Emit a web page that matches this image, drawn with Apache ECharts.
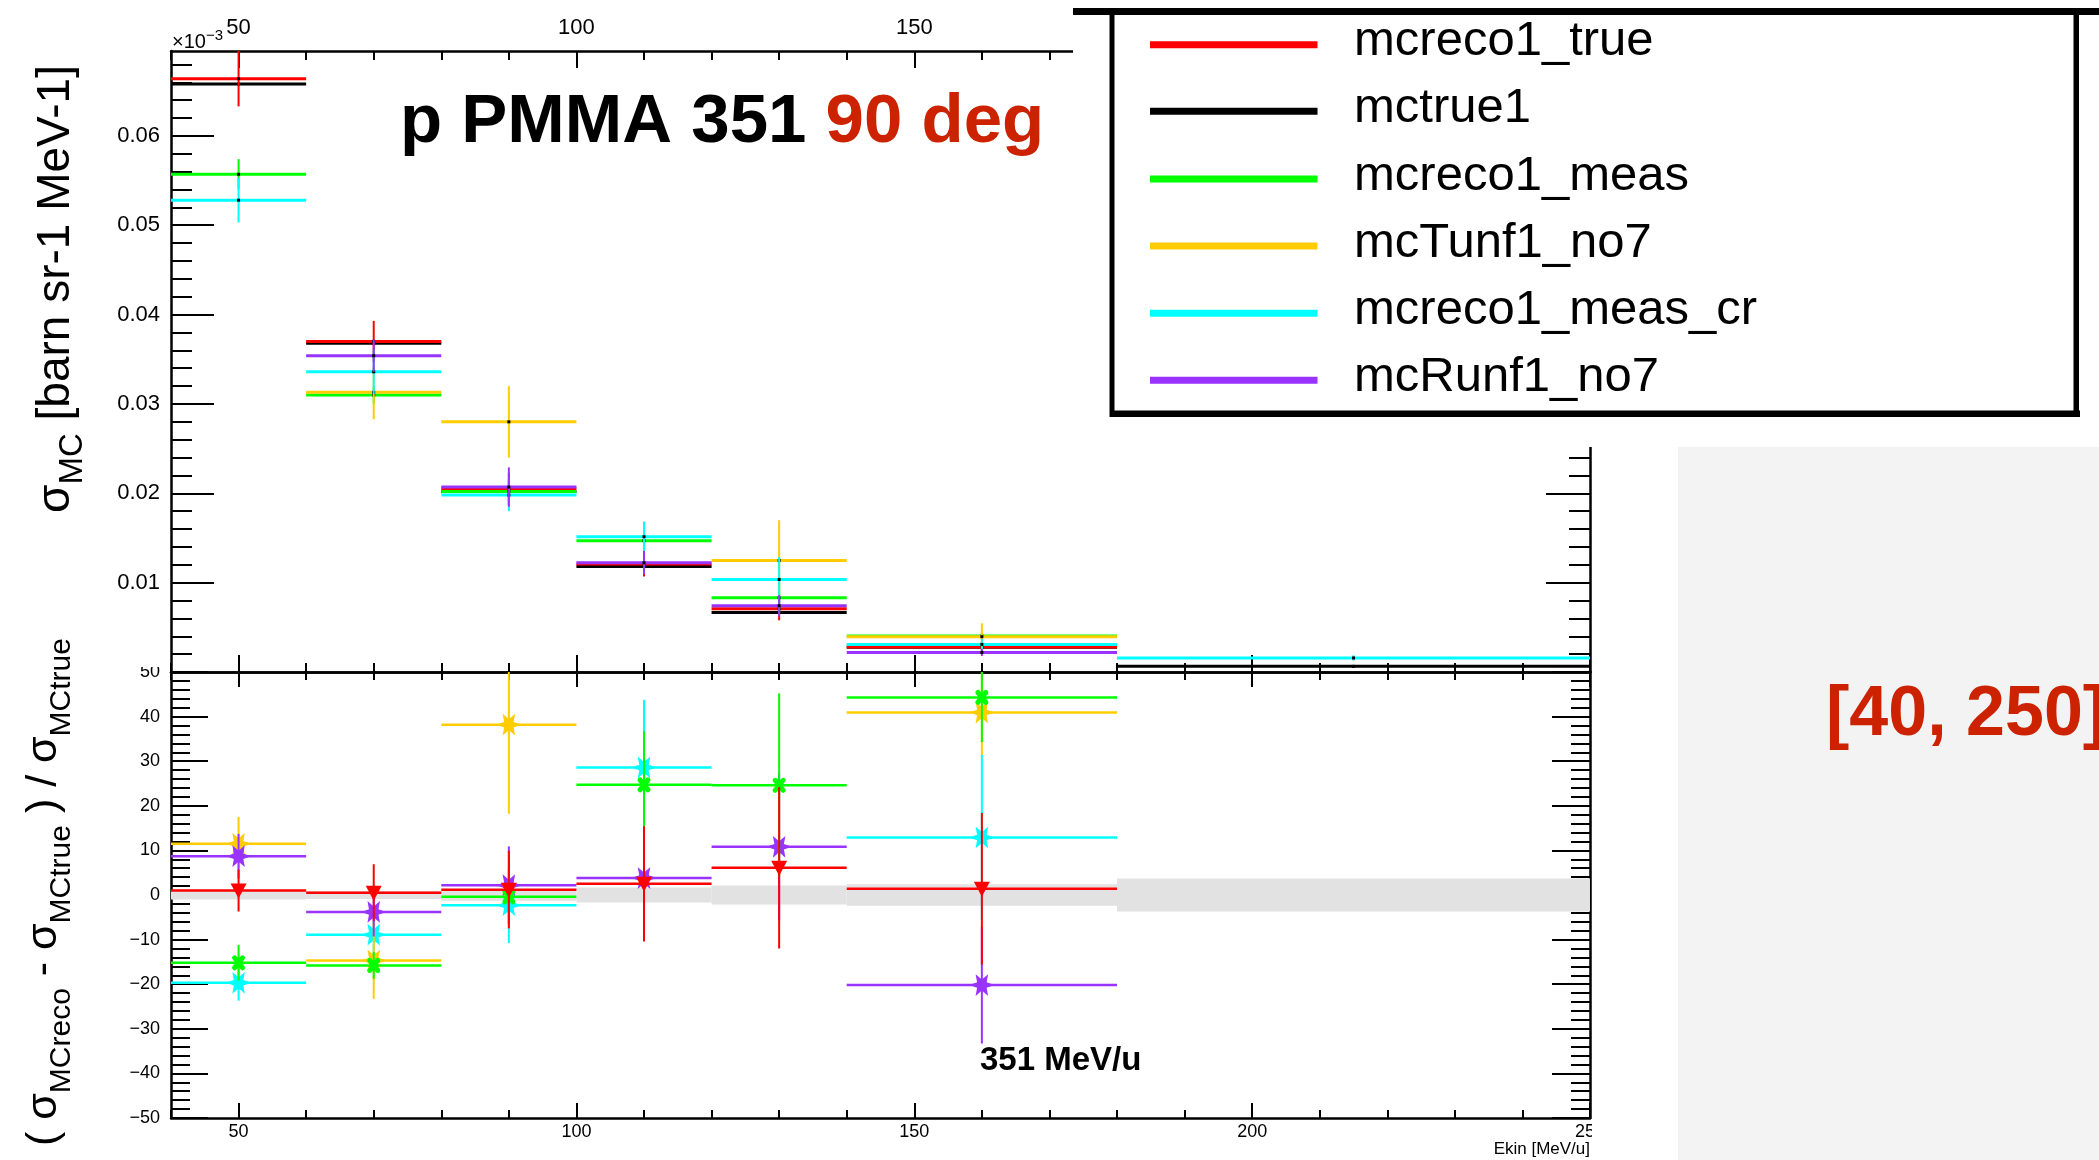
<!DOCTYPE html>
<html><head><meta charset="utf-8">
<script src="https://cdn.jsdelivr.net/npm/echarts@6/dist/echarts.min.js"></script>
<style>html,body{margin:0;padding:0;background:#fff;overflow:hidden}#c{width:2099px;height:1160px}</style>
</head><body><div id="c"></div>
<script>
const FONT = '"Liberation Sans", Arial, Helvetica, sans-serif';

// ---------- bins ----------
const binLo = [40, 60, 80, 100, 120, 140, 180];
const binHi = [60, 80, 100, 120, 140, 180, 250];
const binCenter = [50, 70, 90, 110, 130, 160, 215];

// ---------- legend ----------
const seriesNames = ['mcreco1_true', 'mctrue1', 'mcreco1_meas', 'mcTunf1_no7', 'mcreco1_meas_cr', 'mcRunf1_no7'];
const seriesColors = ['#ff0000', '#000000', '#00ff00', '#ffcc00', '#00ffff', '#9933ff'];

// ---------- upper pad: sigma_MC [barn sr-1 MeV-1] ----------
const sigRecoTrue    = [0.0664, 0.0370, 0.0205, 0.0121, 0.00708, 0.00281, null];
const sigRecoTrueErr = [0.0031, 0.0023, 0.0018, 0.0014, 0.0013, 0.0005, null];
const sigTrue        = [0.0658, 0.0368, 0.0202, 0.0118, 0.00667, 0.00277, 0.00063];
const sigTrueErr     = [0.0001, 0.0001, 0.0001, 0.0001, 0.0001, 0.0001, 0.00005];
const sigMeas        = [0.0557, 0.0310, 0.0202, 0.0147, 0.00832, 0.00403, null];
const sigMeasErr     = [0.0017, 0.0010, 0.0012, 0.0015, 0.0017, 0.0004, null];
const sigTunf        = [0.0734, 0.0313, 0.0280, null, 0.01249, 0.00395, null];
const sigTunfErr     = [0.0030, 0.0030, 0.0040, null, 0.0045, 0.0015, null];
const sigMeasCr      = [0.0528, 0.0336, 0.0198, 0.01514, 0.01036, 0.00309, 0.00157];
const sigMeasCrErr   = [0.0025, 0.0025, 0.0018, 0.0017, 0.0025, 0.0006, 0.0003];
const sigRunf        = [0.0716, 0.0354, 0.0207, 0.01223, 0.00742, 0.00219, null];
const sigRunfErr     = [0.0015, 0.0018, 0.0022, 0.0013, 0.0012, 0.0004, null];

// ---------- lower pad: relative difference [%] ----------
const relRecoTrue    = [1.0, 0.5, 1.2, 2.5, 6.1, 1.4, null];
const relRecoTrueErr = [4.7, 6.4, 8.7, 12.9, 18.1, 17.0, null];
const relMeas        = [-15.2, -15.8, -0.4, 24.7, 24.6, 44.3, null];
const relMeasErr     = [4.0, 3.0, 6.0, 12.0, 20.6, 10.0, null];
const relTunf        = [11.5, -14.7, 38.2, null, null, 40.9, null];
const relTunfErr     = [6.0, 8.6, 20.0, null, null, 9.5, null];
const relMeasCr      = [-19.7, -8.9, -2.3, 28.6, null, 12.9, null];
const relMeasCrErr   = [4.0, 6.0, 8.5, 15.2, null, 18.5, null];
const relRunf        = [8.7, -3.8, 2.2, 3.8, 10.8, -20.2, null];
const relRunfErr     = [5.0, 5.5, 8.7, 12.0, 16.5, 13.1, null];
const trueBand       = [1.0, 0.9, 1.3, 1.7, 2.15, 2.4, 3.7];

// ---------- tick labels ----------
const xMajorTicks = [50, 100, 150, 200, 250];
const xMinorTicks = [40, 50, 60, 70, 80, 90, 100, 110, 120, 130, 140, 150, 160, 170, 180, 190, 200, 210, 220, 230, 240, 250];
const topYLabels = [0.01, 0.02, 0.03, 0.04, 0.05, 0.06];
const topYMinor = [];
for (let k = 1; k <= 34; k++) topYMinor.push(+(k * 0.002).toFixed(3));
const lowYLabels = [-50, -40, -30, -20, -10, 0, 10, 20, 30, 40, 50];
const lowYMinor = [];
for (let k = -25; k <= 25; k++) lowYMinor.push(k * 2);

// ---------- helpers ----------
function rows(vals, errs) {
  const d = [];
  for (let i = 0; i < binLo.length; i++) {
    if (vals[i] == null) continue;
    d.push([binLo[i], binHi[i], binCenter[i], vals[i], errs[i]]);
  }
  return d;
}

function topSeries(name, color, vals, errs) {
  return {
    type: 'custom', name, xAxisIndex: 0, yAxisIndex: 0, clip: true,
    encode: { x: [0, 1, 2], y: 3 }, data: rows(vals, errs), z: 5,
    renderItem(params, api) {
      const lo = api.value(0), hi = api.value(1), c = api.value(2), v = api.value(3), e = api.value(4);
      const a = api.coord([lo, v]), b = api.coord([hi, v]), p = api.coord([c, v]);
      const t = api.coord([c, v + e]), d = api.coord([c, v - e]);
      return { type: 'group', children: [
        { type: 'line', shape: { x1: a[0], y1: a[1], x2: b[0], y2: b[1] }, style: { stroke: color, lineWidth: 3 } },
        { type: 'line', shape: { x1: p[0], y1: t[1], x2: p[0], y2: d[1] }, style: { stroke: color, lineWidth: 2 } },
        { type: 'rect', shape: { x: p[0] - 1.5, y: p[1] - 1.5, width: 3, height: 3 }, style: { fill: '#000' } }
      ] };
    }
  };
}

function markerEl(kind, x, y, color) {
  if (kind === 'tri') {
    return { type: 'polygon', shape: { points: [[x - 8, y - 7], [x + 8, y - 7], [x, y + 8]] }, style: { fill: color } };
  }
  if (kind === 'x') {
    return { type: 'group', children: [
      { type: 'line', shape: { x1: x - 4, y1: y - 5, x2: x + 4, y2: y + 5 }, style: { stroke: color, lineWidth: 5, lineCap: 'round' } },
      { type: 'line', shape: { x1: x - 4, y1: y + 5, x2: x + 4, y2: y - 5 }, style: { stroke: color, lineWidth: 5, lineCap: 'round' } }
    ] };
  }
  const pts = [];
  for (let k = 0; k < 12; k++) {
    const ang = k * Math.PI / 6;
    const r = (k % 2 === 0) ? 12.5 : 5.5;
    pts.push([x + r * Math.cos(ang), y - r * Math.sin(ang)]);
  }
  return { type: 'polygon', shape: { points: pts }, style: { fill: color } };
}

function lowSeries(name, color, vals, errs, marker) {
  return {
    type: 'custom', name, xAxisIndex: 4, yAxisIndex: 4, clip: true,
    encode: { x: [0, 1, 2], y: 3 }, data: rows(vals, errs), z: 5,
    renderItem(params, api) {
      const lo = api.value(0), hi = api.value(1), c = api.value(2), v = api.value(3), e = api.value(4);
      const a = api.coord([lo, v]), b = api.coord([hi, v]), p = api.coord([c, v]);
      const t = api.coord([c, v + e]), d = api.coord([c, v - e]);
      return { type: 'group', children: [
        { type: 'line', shape: { x1: a[0], y1: a[1], x2: b[0], y2: b[1] }, style: { stroke: color, lineWidth: 2.5 } },
        { type: 'line', shape: { x1: p[0], y1: t[1], x2: p[0], y2: d[1] }, style: { stroke: color, lineWidth: 2 } },
        markerEl(marker, p[0], p[1], color)
      ] };
    }
  };
}

function bandSeries() {
  const d = [];
  for (let i = 0; i < binLo.length; i++) d.push([binLo[i], binHi[i], trueBand[i]]);
  return {
    type: 'custom', name: 'band', xAxisIndex: 4, yAxisIndex: 4, clip: true,
    encode: { x: [0, 1], y: 2 }, data: d, z: 3,
    renderItem(params, api) {
      const tl = api.coord([api.value(0), api.value(2)]);
      const br = api.coord([api.value(1), -api.value(2)]);
      return { type: 'rect', shape: { x: tl[0], y: tl[1], width: br[0] - tl[0], height: br[1] - tl[1] }, style: { fill: '#e2e2e2' } };
    }
  };
}

const AX = { color: '#000', width: 2.5 };
function xAxis(grid, pos, ticks, len, showLine, label) {
  return {
    type: 'value', gridIndex: grid, position: pos, min: 40, max: 250,
    axisLine: { show: showLine, onZero: false, lineStyle: AX },
    axisTick: { show: true, inside: true, length: len, customValues: ticks, lineStyle: { color: '#000', width: 2 } },
    axisLabel: label ? Object.assign({ show: true, customValues: xMajorTicks, color: '#000', fontFamily: FONT }, label) : { show: false },
    splitLine: { show: false }
  };
}
function yAxis(grid, pos, min, max, ticks, len, showLine, label) {
  return {
    type: 'value', gridIndex: grid, position: pos, min, max,
    axisLine: { show: showLine, onZero: false, lineStyle: AX },
    axisTick: { show: true, inside: true, length: len, customValues: ticks, lineStyle: { color: '#000', width: 2 } },
    axisLabel: label ? Object.assign({ show: true, color: '#000', fontFamily: FONT }, label) : { show: false },
    splitLine: { show: false }
  };
}

const option = {
  backgroundColor: '#ffffff',
  animation: false,
  grid: [
    { left: 171, top: 51, width: 1419, height: 621 },
    { left: 171, top: 672, width: 1419, height: 446 }
  ],
  xAxis: [
    xAxis(0, 'bottom', xMajorTicks, 17, true, null),
    xAxis(0, 'bottom', xMinorTicks, 9, false, null),
    xAxis(0, 'top', xMajorTicks, 17, true, { fontSize: 22, margin: 12 }),
    xAxis(0, 'top', xMinorTicks, 9, false, null),
    xAxis(1, 'bottom', xMajorTicks, 15, true, { fontSize: 18, margin: 5 }),
    xAxis(1, 'bottom', xMinorTicks, 8, false, null),
    xAxis(1, 'top', xMajorTicks, 15, true, null),
    xAxis(1, 'top', xMinorTicks, 8, false, null)
  ],
  yAxis: [
    yAxis(0, 'left', 0, 0.0695, topYLabels, 43, true, { fontSize: 22, margin: 11, customValues: topYLabels }),
    yAxis(0, 'left', 0, 0.0695, topYMinor, 21, false, null),
    yAxis(0, 'right', 0, 0.0695, topYLabels, 44, true, null),
    yAxis(0, 'right', 0, 0.0695, topYMinor, 21, false, null),
    yAxis(1, 'left', -50, 50, lowYLabels, 37, true, { fontSize: 18, margin: 11, customValues: lowYLabels,
      formatter: v => (v < 0 ? '\u2212' + (-v) : String(v)) }),
    yAxis(1, 'left', -50, 50, lowYMinor, 19, false, null),
    yAxis(1, 'right', -50, 50, lowYLabels, 38, true, null),
    yAxis(1, 'right', -50, 50, lowYMinor, 19, false, null)
  ],
  series: [
    topSeries(seriesNames[1], seriesColors[1], sigTrue, sigTrueErr),
    topSeries(seriesNames[0], seriesColors[0], sigRecoTrue, sigRecoTrueErr),
    topSeries(seriesNames[2], seriesColors[2], sigMeas, sigMeasErr),
    topSeries(seriesNames[3], seriesColors[3], sigTunf, sigTunfErr),
    topSeries(seriesNames[4], seriesColors[4], sigMeasCr, sigMeasCrErr),
    topSeries(seriesNames[5], seriesColors[5], sigRunf, sigRunfErr),
    bandSeries(),
    lowSeries(seriesNames[4], seriesColors[4], relMeasCr, relMeasCrErr, 'star'),
    lowSeries(seriesNames[3], seriesColors[3], relTunf, relTunfErr, 'star'),
    lowSeries(seriesNames[5], seriesColors[5], relRunf, relRunfErr, 'star'),
    lowSeries(seriesNames[2], seriesColors[2], relMeas, relMeasErr, 'x'),
    lowSeries(seriesNames[0], seriesColors[0], relRecoTrue, relRecoTrueErr, 'tri')
  ],
  graphic: []
};

// ---------- annotations ----------
const G = option.graphic;
const legendY = [44.7, 111.3, 179, 246, 313.3, 380.3];
// white area behind legend (covers plot corner)
G.push({ type: 'rect', z: 100, shape: { x: 1073, y: 0, width: 1030, height: 447 }, style: { fill: '#fff' } });
// legend frame
G.push({ type: 'rect', z: 101, shape: { x: 1073, y: 8, width: 1030, height: 7 }, style: { fill: '#000' } });
G.push({ type: 'rect', z: 101, shape: { x: 1109.5, y: 11, width: 5, height: 406 }, style: { fill: '#000' } });
G.push({ type: 'rect', z: 101, shape: { x: 1110, y: 410.5, width: 970, height: 6.5 }, style: { fill: '#000' } });
G.push({ type: 'rect', z: 101, shape: { x: 2073.5, y: 11, width: 5.5, height: 406 }, style: { fill: '#000' } });
for (let i = 0; i < seriesNames.length; i++) {
  G.push({ type: 'rect', z: 102, shape: { x: 1150, y: legendY[i] - 3.5, width: 167.5, height: 7 }, style: { fill: seriesColors[i] } });
  G.push({ type: 'text', z: 102, x: 1354, y: legendY[i] - 3,
    style: { text: seriesNames[i], fill: '#000', font: '49px ' + FONT, align: 'left', verticalAlign: 'middle' } });
}
// right textured panel
G.push({ type: 'rect', z: 90, shape: { x: 1678, y: 447, width: 430, height: 720 }, style: { fill: '#f3f3f3' } });
G.push({ type: 'text', z: 91, x: 1826, y: 716,
  style: { text: '[40, 250]', fill: '#cc2200', font: 'bold 70px ' + FONT, align: 'left', verticalAlign: 'middle' } });
// clip right of plot frame
G.push({ type: 'rect', z: 90, shape: { x: 1592, y: 1119, width: 86, height: 45 }, style: { fill: '#fff' } });
// clipped "50" label artefact
G.push({ type: 'rect', z: 90, shape: { x: 128, y: 656, width: 40, height: 11 }, style: { fill: '#fff' } });
// title
G.push({ type: 'text', z: 95, x: 400, y: 123,
  style: { text: '{a|p PMMA 351 }{b|90 deg}', align: 'left', verticalAlign: 'middle',
    rich: { a: { font: 'bold 69px ' + FONT, fill: '#000' }, b: { font: 'bold 69px ' + FONT, fill: '#cc2200' } } } });
// energy label
G.push({ type: 'text', z: 95, x: 980, y: 1061,
  style: { text: '351 MeV/u', fill: '#000', font: 'bold 33px ' + FONT, align: 'left', verticalAlign: 'middle' } });
// x title
G.push({ type: 'text', z: 95, x: 1590, y: 1149,
  style: { text: 'Ekin [MeV/u]', fill: '#000', font: '17px ' + FONT, align: 'right', verticalAlign: 'middle' } });
// exponent artefact
G.push({ type: 'text', z: 95, x: 172, y: 40,
  style: { text: '{a|\u00d710}{b|\u22123}', align: 'left', verticalAlign: 'middle',
    rich: { a: { font: '20px ' + FONT, fill: '#000', lineHeight: 24, verticalAlign: 'bottom' },
            b: { font: '15px ' + FONT, fill: '#000', lineHeight: 15, verticalAlign: 'top' } } } });
// y titles
G.push({ type: 'text', z: 95, x: 56, y: 289, rotation: Math.PI / 2,
  style: { text: '{m|\u03c3}{s|MC}{m| [barn sr-1 MeV-1]}', align: 'center', verticalAlign: 'middle',
    rich: { m: { font: '46px ' + FONT, fill: '#000', lineHeight: 66 },
            s: { font: '33px ' + FONT, fill: '#000', lineHeight: 33, verticalAlign: 'bottom' } } } });
G.push({ type: 'text', z: 95, x: 44, y: 892, rotation: Math.PI / 2,
  style: { text: '{m|( \u03c3}{s|MCreco}{m| - \u03c3}{s|MCtrue}{m| ) / \u03c3}{s|MCtrue}', align: 'center', verticalAlign: 'middle',
    rich: { m: { font: '43px ' + FONT, fill: '#000', lineHeight: 66 },
            s: { font: '30px ' + FONT, fill: '#000', lineHeight: 30, verticalAlign: 'bottom' } } } });

const chart = echarts.init(document.getElementById('c'), null, { renderer: 'canvas' });
chart.setOption(option);
</script>
</body></html>
